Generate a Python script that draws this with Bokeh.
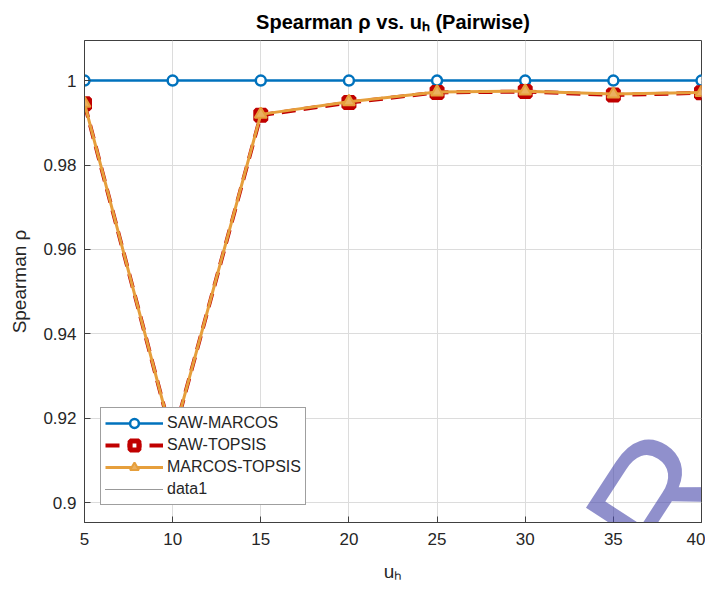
from bokeh.plotting import figure
from bokeh.models import FixedTicker, Legend, LegendItem, Label, Range1d
from bokeh.embed import file_html
from bokeh.resources import INLINE

try:
    from bokeh.models import HTMLLabel as WatermarkLabel
except ImportError:
    WatermarkLabel = Label

# ---- data ----
u_h = [5, 10, 15, 20, 25, 30, 35, 40]
saw_marcos = [1.0, 1.0, 1.0, 1.0, 1.0, 1.0, 1.0, 1.0]
saw_topsis = [0.9945, 0.9150, 0.9918, 0.9948, 0.9972, 0.9974, 0.9966, 0.9971]
marcos_topsis = [0.9946, 0.9150, 0.9920, 0.9950, 0.9973, 0.9975, 0.9968, 0.9972]
data1_x = [5]
data1_y = [float("nan")]
x_ticks = [5, 10, 15, 20, 25, 30, 35, 40]
y_ticks = [0.9, 0.92, 0.94, 0.96, 0.98, 1.0]
y_tick_labels = ["0.9", "0.92", "0.94", "0.96", "0.98", "1"]

FONT = "Liberation Sans"
TXT = "#262626"
AX = "#404040"
BLUE = "#0072BD"
RED = "#C00000"
ORANGE = "#E69F3C"

p = figure(width=705, height=592, output_backend="svg", toolbar_location=None,
           x_range=Range1d(5, 40), y_range=Range1d(0.8953, 1.0095),
           min_border_left=84, min_border_right=4, min_border_top=40,
           min_border_bottom=70, title="Spearman ρ vs. uₕ (Pairwise)")

p.title.text_font = FONT
p.title.text_font_size = "20px"
p.title.text_font_style = "bold"
p.title.text_color = "#000000"
p.title.align = "center"
p.title.standoff = 16

p.background_fill_color = "white"
p.border_fill_color = "white"
p.outline_line_color = AX
p.outline_line_width = 1

for g in (p.xgrid, p.ygrid):
    g.grid_line_color = "#dcdcdc"
    g.grid_line_width = 1
p.xgrid.ticker = FixedTicker(ticks=x_ticks)
p.ygrid.ticker = FixedTicker(ticks=y_ticks)

xa = p.xaxis[0]
xa.ticker = FixedTicker(ticks=x_ticks)
xa.axis_label = "uₕ"
ya = p.yaxis[0]
ya.ticker = FixedTicker(ticks=y_ticks)
ya.major_label_overrides = {t: l for t, l in zip(y_ticks, y_tick_labels)}
ya.axis_label = "Spearman ρ"

for a in (xa, ya):
    a.axis_line_color = AX
    a.major_tick_line_color = AX
    a.major_tick_in = 6
    a.major_tick_out = 0
    a.minor_tick_line_color = None
    a.major_label_text_font = FONT
    a.major_label_text_font_size = "17px"
    a.major_label_text_color = TXT
    a.axis_label_text_font = FONT
    a.axis_label_text_font_size = "19px"
    a.axis_label_text_font_style = "normal"
    a.axis_label_text_color = TXT
xa.major_label_standoff = 10
xa.axis_label_standoff = 13
ya.major_label_standoff = 8
ya.axis_label_standoff = 10

# ---- series ----
b_line = p.line(u_h, saw_marcos, line_color=BLUE, line_width=2.5)
b_pts = p.scatter(u_h, saw_marcos, marker="circle", size=10, line_color=BLUE,
                  line_width=2.5, fill_color="white")
r_line = p.line(u_h, saw_topsis, line_color=RED, line_width=4, line_dash="14 8")
r_pts = p.scatter(u_h, saw_topsis, marker="square", size=10, line_color=RED,
                  line_width=5, fill_color="white")
o_line = p.line(u_h, marcos_topsis, line_color=ORANGE, line_width=3)
o_pts = p.scatter(u_h, marcos_topsis, marker="triangle", size=12, line_color=ORANGE,
                  line_width=2, fill_color="#EBB060")
d_line = p.line(data1_x, data1_y, line_color="#333333", line_width=1, line_dash="1 1")

legend = Legend(items=[
    LegendItem(label="SAW-MARCOS", renderers=[b_line, b_pts]),
    LegendItem(label="SAW-TOPSIS", renderers=[r_line, r_pts]),
    LegendItem(label="MARCOS-TOPSIS", renderers=[o_line, o_pts]),
    LegendItem(label="data1", renderers=[d_line]),
], location=(16, 17))
legend.label_text_font = FONT
legend.label_text_font_size = "16px"
legend.label_text_color = TXT
legend.glyph_width = 58
legend.glyph_height = 22
legend.label_height = 22
legend.label_standoff = 4
legend.spacing = -1
legend.padding = 4
legend.margin = 0
legend.border_line_color = AX
legend.border_line_width = 1
legend.background_fill_color = "white"
legend.background_fill_alpha = 1
p.add_layout(legend)

# watermark overlay seen in the reference
wm = WatermarkLabel(x=35.80, y=0.8885, text="R",
                    angle=0.995, text_font=FONT, text_font_size="170px",
                    text_color="#4646AA", text_alpha=0.6, text_align="left",
                    text_baseline="alphabetic")
p.add_layout(wm)

open("out.html", "w").write(file_html(p, INLINE))
